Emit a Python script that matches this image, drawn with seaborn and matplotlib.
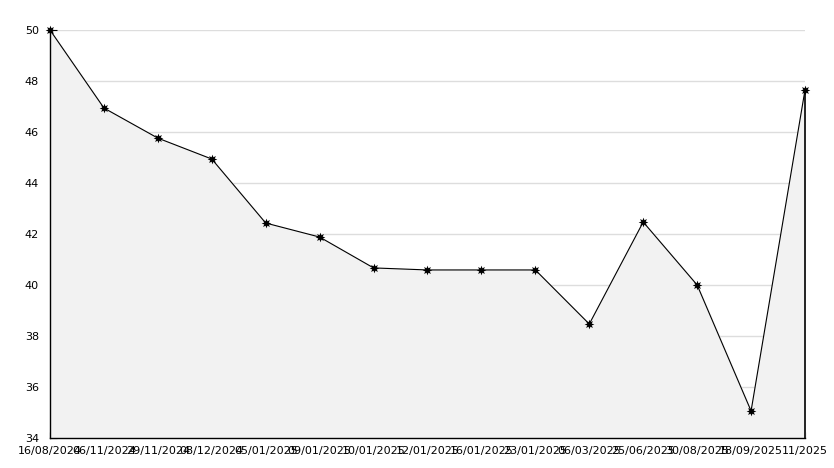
import numpy as np
import pandas as pd
import seaborn as sns
import matplotlib.pyplot as plt
from matplotlib.ticker import MultipleLocator

datas = ['16/08/2024', '06/11/2024', '29/11/2024', '08/12/2024', '05/01/2025',
         '09/01/2025', '10/01/2025', '12/01/2025', '16/01/2025', '23/01/2025',
         '06/03/2025', '25/06/2025', '30/08/2025', '18/09/2025', '11/2025']
valores = [50.0, 46.94, 45.76, 44.94, 42.43, 41.88, 40.67, 40.59, 40.59, 40.59,
           38.47, 42.47, 40.0, 35.06, 47.65]

dados = pd.DataFrame({'pos': np.arange(len(datas)), 'valor': valores})

sns.set_style('white')
plt.rcParams['font.family'] = ['DejaVu Sans']

fig = plt.figure(figsize=(8.34, 4.68), dpi=100)
ax = fig.add_axes([50 / 834, 30 / 468, 755 / 834, 408 / 468])

ax.fill_between(dados['pos'], dados['valor'], 34, color='#f2f2f2', zorder=1)
ax.vlines(dados['pos'].iloc[-1], 34, dados['valor'].iloc[-1], color='black', lw=1.2,
          zorder=2, clip_on=False)
sns.lineplot(data=dados, x='pos', y='valor', ax=ax, color='black', lw=0.8,
             marker=(8, 1, 0), markersize=7, markeredgewidth=0, zorder=3, clip_on=False)

ax.set_xlim(0, len(datas) - 1)
ax.set_ylim(34, 50)
ax.set_xticks(dados['pos'])
ax.set_xticklabels(datas, fontsize=8)
ax.yaxis.set_major_locator(MultipleLocator(2))
ax.yaxis.set_minor_locator(MultipleLocator(1))
ax.tick_params(axis='y', labelsize=8, length=5, width=0.8, direction='in', left=True,
               colors='black', pad=8)
ax.tick_params(axis='y', which='minor', length=3, width=0.8, direction='in', left=True,
               colors='black')
ax.tick_params(axis='x', length=4, width=0.8, direction='in', bottom=True, pad=6,
               colors='black')
ax.grid(axis='y', color='#dddddd', lw=1, zorder=0)
ax.set_axisbelow(True)
ax.set_xlabel('')
ax.set_ylabel('')

for s in ['top', 'right']:
    ax.spines[s].set_visible(False)
for s in ['left', 'bottom']:
    ax.spines[s].set_color('black')
    ax.spines[s].set_linewidth(1)

fig.savefig('out.png', dpi=100)
